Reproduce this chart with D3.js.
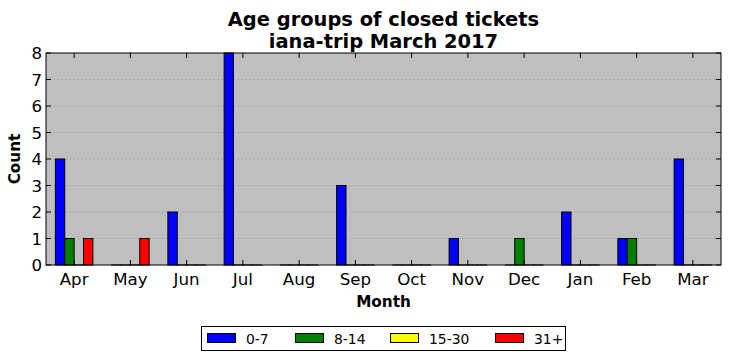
<!DOCTYPE html>
<html><head><meta charset="utf-8">
<script src="https://cdn.jsdelivr.net/npm/d3@7"></script>
<style>body{margin:0;background:#fff;} text{font-family:"DejaVu Sans",sans-serif;}</style>
</head><body><svg id="c" width="731" height="361"></svg>
<script>
const months = ["Apr","May","Jun","Jul","Aug","Sep","Oct","Nov","Dec","Jan","Feb","Mar"];
const seriesNames = ["0-7","8-14","15-30","31+"];
const colors = ["#0000ff","#008000","#ffff00","#ff0000"];
const s0_7   = [4,0,2,8,0,3,0,1,0,2,1,4];
const s8_14  = [1,0,0,0,0,0,0,0,1,0,1,0];
const s15_30 = [0,0,0,0,0,0,0,0,0,0,0,0];
const s31p   = [1,1,0,0,0,0,0,0,0,0,0,0];
const yTicks = [0,1,2,3,4,5,6,7,8];
const series = [s0_7, s8_14, s15_30, s31p];

const svg = d3.select("#c");
const L=46, R=721, T=53, B=265;
const x = d3.scaleLinear().domain([-0.5, 11.5]).range([L, R]);
const y = d3.scaleLinear().domain([0, 8]).range([B, T]);
const bw = 1/6;

svg.append("rect").attr("x",L).attr("y",T).attr("width",R-L).attr("height",B-T).attr("fill","#bfbfbf");

// grid
svg.append("g").selectAll("line").data(yTicks.slice(1,-1)).join("line")
  .attr("x1",L).attr("x2",R).attr("y1",d=>y(d)).attr("y2",d=>y(d))
  .attr("stroke","#8a8a8a").attr("stroke-width",0.8).attr("stroke-dasharray","1,3");

// bars
series.forEach((s,si)=>{
  svg.append("g").selectAll("rect").data(s).join("rect")
    .attr("x",(d,i)=>x(i + (si-2)*bw))
    .attr("width",x(bw)-x(0))
    .attr("y",d=>y(d))
    .attr("height",d=>Math.max(0.01,y(0)-y(d)))
    .attr("fill",colors[si]).attr("stroke","#000").attr("stroke-width",1);
});

// ticks (inward, all sides)
const tk = svg.append("g").attr("stroke","#000").attr("stroke-width",1);
months.forEach((m,i)=>{
  tk.append("line").attr("x1",x(i)).attr("x2",x(i)).attr("y1",B).attr("y2",B-5);
  tk.append("line").attr("x1",x(i)).attr("x2",x(i)).attr("y1",T).attr("y2",T+5);
});
yTicks.forEach(v=>{
  tk.append("line").attr("x1",L).attr("x2",L+5).attr("y1",y(v)).attr("y2",y(v));
  tk.append("line").attr("x1",R).attr("x2",R-5).attr("y1",y(v)).attr("y2",y(v));
});
svg.append("rect").attr("x",L).attr("y",T).attr("width",R-L).attr("height",B-T)
  .attr("fill","none").attr("stroke","#000").attr("stroke-width",1);

// tick labels
svg.append("g").selectAll("text").data(months).join("text")
  .attr("x",(d,i)=>x(i)).attr("y",B+20).attr("text-anchor","middle")
  .attr("font-size",16.67).text(d=>d);
svg.append("g").selectAll("text").data(yTicks).join("text")
  .attr("x",L-4).attr("y",d=>y(d)+6).attr("text-anchor","end")
  .attr("font-size",16.67).text(d=>d);

// axis labels
svg.append("text").attr("x",(L+R)/2).attr("y",307).attr("text-anchor","middle")
  .attr("font-size",15.28).attr("font-weight","bold").text("Month");
svg.append("text").attr("transform","translate(20,159) rotate(-90)").attr("text-anchor","middle")
  .attr("font-size",15.28).attr("font-weight","bold").text("Count");

// title
svg.append("text").attr("x",(L+R)/2).attr("y",26).attr("text-anchor","middle")
  .attr("font-size",19.44).attr("font-weight","bold").text("Age groups of closed tickets");
svg.append("text").attr("x",(L+R)/2).attr("y",48).attr("text-anchor","middle")
  .attr("font-size",19.44).attr("font-weight","bold").text("iana-trip March 2017");

// legend
const lg = svg.append("g");
lg.append("rect").attr("x",201.5).attr("y",326.5).attr("width",364).attr("height",24)
  .attr("fill","#fff").attr("stroke","#000").attr("stroke-width",1);
const lx = [207, 295, 390, 495];
seriesNames.forEach((n,i)=>{
  lg.append("rect").attr("x",lx[i]+0.5).attr("y",333.5).attr("width",28).attr("height",9)
    .attr("fill",colors[i]).attr("stroke","#000").attr("stroke-width",1);
  lg.append("text").attr("x",lx[i]+39).attr("y",343.5).attr("font-size",13.9).text(n);
});
</script></body></html>
